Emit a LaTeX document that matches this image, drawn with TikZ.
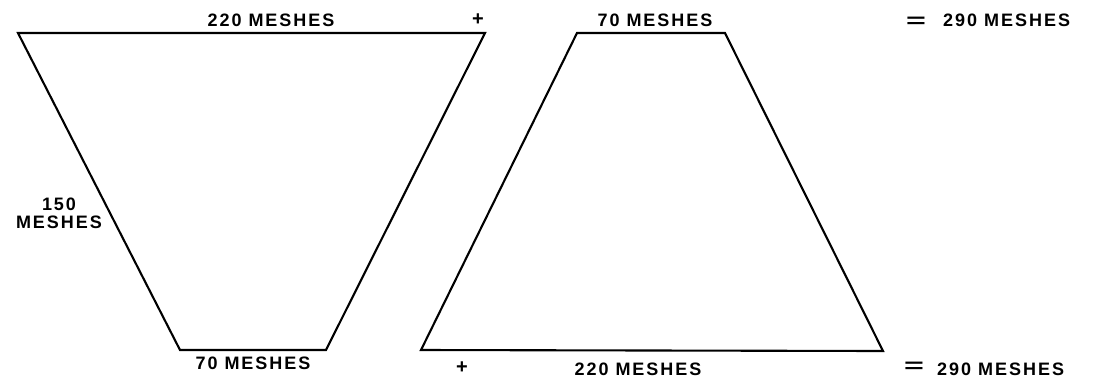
\documentclass[tikz,border=0pt]{standalone}
\usepackage{fontspec}
\newfontfamily\lbl[LetterSpace=11]{Liberation Sans}
\newfontfamily\symf{Liberation Sans}
\begin{document}
\begin{tikzpicture}[x=1pt,y=-1pt,
  edge/.style={line width=2.1pt,line join=miter},
  lab/.style={font=\lbl\bfseries\fontsize{18}{19}\selectfont,inner sep=0pt,text=black},
  sym/.style={font=\symf\bfseries\fontsize{20}{20}\selectfont,inner sep=0pt}]
\useasboundingbox[fill=white] (0,0) rectangle (1094,378);
% left trapezoid
\coordinate (LA) at (18,33);
\coordinate (LB) at (485,33);
\coordinate (LC) at (326,350);
\coordinate (LD) at (180,350);
\draw[edge] (LA) -- (LB) -- (LC) -- (LD) -- cycle;
% right trapezoid
\coordinate (RA) at (577,33);
\coordinate (RB) at (725,33);
\coordinate (RC) at (883,351);
\coordinate (RD) at (421,350);
\draw[edge] (RA) -- (RB) -- (RC) -- (RD) -- cycle;
% labels
\node[lab] (t1) at (271,20) {220 MESHES};
\node[sym] (p1) at (478,20) {+};
\node[lab] (t2) at (655,20) {70 MESHES};
\node[sym] (e1) at (916,22) {\scalebox{1.7}[1]{=}};
\node[lab,anchor=west] (t3) at (943,20) {290 MESHES};
\node[lab,align=center] (s1) at (59,213) {150\\[-1pt]MESHES};
\node[lab] (b1) at (253,363) {70 MESHES};
\node[sym] (p2) at (462,368) {+};
\node[lab] (b2) at (638,369) {220 MESHES};
\node[sym] (e2) at (914,367) {\scalebox{1.7}[1]{=}};
\node[lab,anchor=west] (b3) at (937,369) {290 MESHES};
\end{tikzpicture}
\end{document}
